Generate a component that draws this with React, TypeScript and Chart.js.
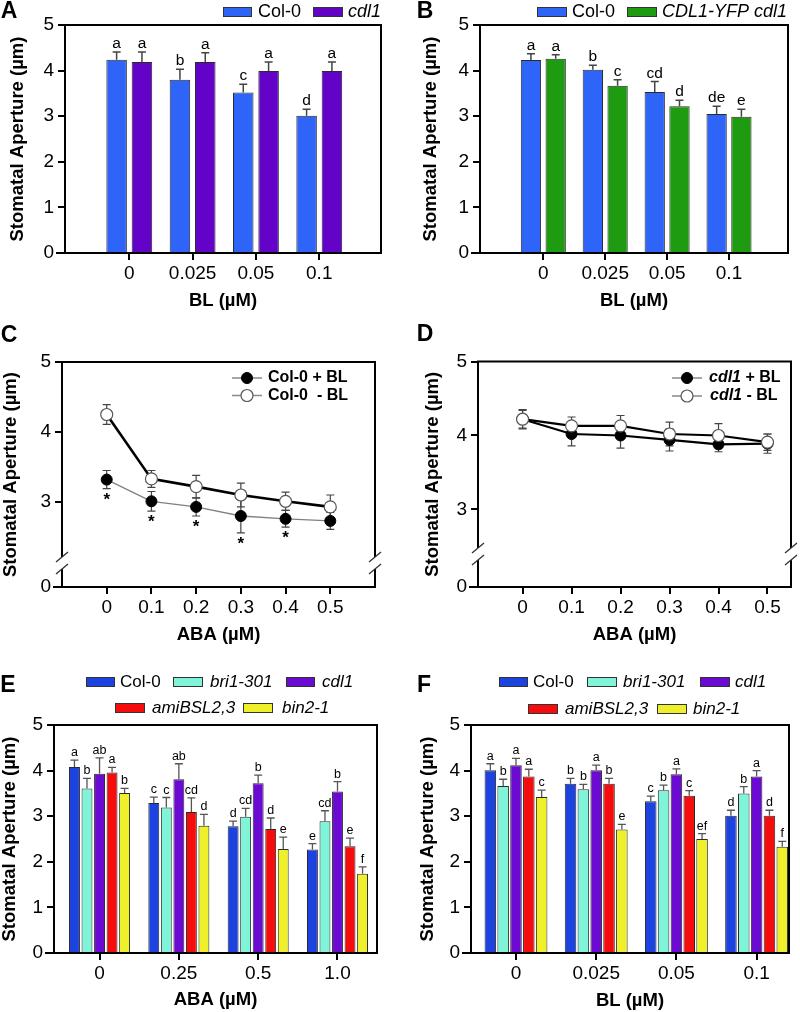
import React, { useEffect, useRef } from 'react';
import { Chart, registerables } from 'chart.js';

Chart.register(...registerables);

const FONT = '"Liberation Sans", Arial, Helvetica, sans-serif';

/* ======================= DATA ======================= */
// Shared axis labels
const Y_TITLE = 'Stomatal Aperture (µm)';
const BAR_Y_TICKS = [0, 1, 2, 3, 4, 5];
const BAR_Y_LABELS = ['0', '1', '2', '3', '4', '5'];

// Panels A, B, F : BL doses
const BL_LABELS = ['0', '0.025', '0.05', '0.1'];
// Panel E : ABA doses
const ABA_E_LABELS = ['0', '0.25', '0.5', '1.0'];

// Panel A
const A_SERIES = ['Col-0', 'cdl1'];
const A_COL0 = [4.24, 3.8, 3.52, 3.01];
const A_COL0_ERR = [0.17, 0.23, 0.18, 0.14];
const A_COL0_SIG = ['a', 'b', 'c', 'd'];
const A_CDL1 = [4.19, 4.19, 3.99, 3.99];
const A_CDL1_ERR = [0.22, 0.2, 0.2, 0.2];
const A_CDL1_SIG = ['a', 'a', 'a', 'a'];

// Panel B
const B_SERIES = ['Col-0', 'CDL1-YFP cdl1'];
const B_COL0 = [4.23, 4.02, 3.53, 3.05];
const B_COL0_ERR = [0.14, 0.1, 0.23, 0.17];
const B_COL0_SIG = ['a', 'b', 'cd', 'de'];
const B_YFP = [4.26, 3.67, 3.22, 2.99];
const B_YFP_ERR = [0.09, 0.13, 0.13, 0.16];
const B_YFP_SIG = ['a', 'c', 'd', 'e'];

// Panels C, D : ABA line series (broken y axis)
const ABA_DOSES = [0, 0.1, 0.2, 0.3, 0.4, 0.5];
const ABA_LABELS = ['0', '0.1', '0.2', '0.3', '0.4', '0.5'];
const BROKEN_Y_TICKS = [3, 4, 5];
const BROKEN_Y_LABELS = ['0', '3', '4', '5'];

const C_SERIES = ['Col-0 + BL', 'Col-0  - BL'];
const C_PLUS = [3.32, 3.01, 2.93, 2.8, 2.76, 2.73];
const C_PLUS_ERR = [0.13, 0.14, 0.13, 0.24, 0.12, 0.12];
const C_PLUS_MARK = ['*', '*', '*', '*', '*', ''];
const C_MINUS = [4.25, 3.33, 3.22, 3.1, 3.01, 2.93];
const C_MINUS_ERR = [0.14, 0.12, 0.16, 0.17, 0.13, 0.17];

const D_SERIES = ['cdl1 + BL', 'cdl1 - BL'];
const D_PLUS = [4.22, 4.02, 4.0, 3.94, 3.88, 3.89];
const D_PLUS_ERR = [0.12, 0.16, 0.17, 0.15, 0.1, 0.13];
const D_MINUS = [4.22, 4.13, 4.13, 4.02, 4.0, 3.91];
const D_MINUS_ERR = [0.13, 0.12, 0.14, 0.16, 0.16, 0.11];

// Panels E, F : five genotypes
const GENOTYPES = ['Col-0', 'bri1-301', 'cdl1', 'amiBSL2,3', 'bin2-1'];

const E_COL0 = [4.08, 3.29, 2.78, 2.27];
const E_COL0_ERR = [0.15, 0.13, 0.11, 0.13];
const E_COL0_SIG = ['a', 'c', 'd', 'e'];
const E_BRI1 = [3.61, 3.19, 2.99, 2.89];
const E_BRI1_ERR = [0.22, 0.22, 0.18, 0.23];
const E_BRI1_SIG = ['b', 'c', 'cd', 'cd'];
const E_CDL1 = [3.93, 3.81, 3.72, 3.54];
const E_CDL1_ERR = [0.35, 0.34, 0.18, 0.22];
const E_CDL1_SIG = ['ab', 'ab', 'b', 'b'];
const E_AMI = [3.96, 3.09, 2.72, 2.34];
const E_AMI_ERR = [0.11, 0.31, 0.24, 0.18];
const E_AMI_SIG = ['a', 'cd', 'd', 'e'];
const E_BIN2 = [3.51, 2.79, 2.28, 1.74];
const E_BIN2_ERR = [0.1, 0.25, 0.26, 0.15];
const E_BIN2_SIG = ['b', 'd', 'e', 'f'];

const F_COL0 = [4.01, 3.71, 3.33, 3.01];
const F_COL0_ERR = [0.14, 0.12, 0.11, 0.12];
const F_COL0_SIG = ['a', 'b', 'c', 'd'];
const F_BRI1 = [3.66, 3.59, 3.57, 3.5];
const F_BRI1_ERR = [0.15, 0.11, 0.11, 0.15];
const F_BRI1_SIG = ['b', 'b', 'b', 'b'];
const F_CDL1 = [4.12, 4.01, 3.92, 3.87];
const F_CDL1_ERR = [0.15, 0.11, 0.12, 0.13];
const F_CDL1_SIG = ['a', 'a', 'a', 'a'];
const F_AMI = [3.87, 3.71, 3.45, 3.01];
const F_AMI_ERR = [0.16, 0.12, 0.11, 0.12];
const F_AMI_SIG = ['a', 'b', 'c', 'd'];
const F_BIN2 = [3.42, 2.71, 2.5, 2.33];
const F_BIN2_ERR = [0.15, 0.11, 0.12, 0.12];
const F_BIN2_SIG = ['c', 'e', 'ef', 'f'];

/* ======================= STYLE ======================= */
const C_BLUE_LIGHT = '#2e64f7';
const C_PURPLE = '#6403c8';
const C_GREEN = '#1f9b12';
const C_BLUE = '#1c42e0';
const C_AQUA = '#80f4d8';
const C_PURPLE2 = '#6a0ad2';
const C_RED = '#f50c0c';
const C_YELLOW = '#f0f02a';

const TICK_SIZE = 19;
const TITLE_SIZE = 18.5;
const TITLE_HALF = TITLE_SIZE / 2;

type Rect = { x: number; y: number; w: number; h: number };
type Area = { l: number; t: number; r: number; b: number };
type Geom = {
  canvas: Rect;
  area: Area;
  yTitleX: number;
  xTitleY: number;
  letter: { text: string; x: number; y: number };
};
type Seg = { text: string; italic?: boolean };
type LegendEntry = { ds: number; kind: 'box' | 'line'; x1: number; x2: number; tx: number; y: number; segs: Seg[] };

function layoutPadding(g: Geom) {
  return {
    left: 0,
    top: g.area.t - g.canvas.y,
    right: g.canvas.x + g.canvas.w - g.area.r,
    bottom: 0,
  };
}

const axisGrid = (tl: number) => ({
  display: true,
  drawOnChartArea: false,
  drawTicks: true,
  tickLength: tl,
  color: '#000',
  tickColor: '#000',
  lineWidth: 2,
  tickWidth: 2,
  offset: false,
});
const axisBorder = { display: true, color: '#000', width: 2 };

function xScale(g: Geom, min: number, max: number, values: number[], labels: string[], title: string) {
  const h = g.canvas.y + g.canvas.h - g.area.b;
  return {
    type: 'linear',
    min,
    max,
    offset: false,
    bounds: 'data',
    afterBuildTicks: (s: any) => {
      s.ticks = values.map((v) => ({ value: v }));
    },
    afterFit: (s: any) => {
      s.height = h;
    },
    ticks: {
      callback: (_v: any, i: number) => labels[i],
      font: { family: FONT, size: TICK_SIZE },
      color: '#000',
      padding: 2,
      maxRotation: 0,
      minRotation: 0,
      autoSkip: false,
    },
    grid: axisGrid(7),
    border: axisBorder,
    title: {
      display: true,
      text: title,
      color: '#000',
      font: { family: FONT, size: TITLE_SIZE, weight: 'bold', lineHeight: 1 },
      padding: { top: 0, bottom: g.canvas.y + g.canvas.h - g.xTitleY - TITLE_HALF },
    },
  };
}

function yScale(g: Geom, min: number, max: number, values: number[], labels: string[]) {
  const w = g.area.l - g.canvas.x;
  return {
    type: 'linear',
    min,
    max,
    bounds: 'data',
    afterBuildTicks: (s: any) => {
      s.ticks = values.map((v) => ({ value: v }));
    },
    afterFit: (s: any) => {
      s.width = w;
    },
    ticks: {
      callback: (_v: any, i: number) => labels[i],
      font: { family: FONT, size: TICK_SIZE },
      color: '#000',
      padding: 4,
    },
    grid: axisGrid(7),
    border: axisBorder,
    title: {
      display: true,
      text: Y_TITLE,
      color: '#000',
      font: { family: FONT, size: TITLE_SIZE, weight: 'bold', lineHeight: 1 },
      padding: { top: g.yTitleX - g.canvas.x - TITLE_HALF, bottom: 0 },
    },
  };
}

/* ======================= PLUGINS ======================= */
function framePlugin(g: Geom, breakY?: number) {
  return {
    id: 'frame',
    afterDraw(chart: any) {
      const { ctx, chartArea: a } = chart;
      ctx.save();
      ctx.strokeStyle = '#000';
      ctx.lineWidth = 2;
      ctx.lineCap = 'square';
      ctx.beginPath();
      ctx.moveTo(a.left, a.top);
      ctx.lineTo(a.right, a.top);
      ctx.lineTo(a.right, a.bottom);
      ctx.moveTo(a.left - 8, a.bottom);
      ctx.lineTo(a.left, a.bottom);
      ctx.stroke();
      if (breakY !== undefined) {
        const yc = breakY - g.canvas.y;
        for (const x of [a.left, a.right]) {
          ctx.fillStyle = '#fff';
          ctx.fillRect(x - 3, yc - 6, 6, 12);
          ctx.strokeStyle = '#333';
          ctx.lineWidth = 1.3;
          ctx.lineCap = 'butt';
          ctx.beginPath();
          ctx.moveTo(x - 6, yc - 1);
          ctx.lineTo(x + 6, yc - 11);
          ctx.moveTo(x - 6, yc + 11);
          ctx.lineTo(x + 6, yc + 1);
          ctx.stroke();
        }
      }
      // panel letter
      ctx.fillStyle = '#000';
      ctx.font = `bold 23px ${FONT}`;
      ctx.textAlign = 'center';
      ctx.textBaseline = 'middle';
      ctx.fillText(g.letter.text, g.letter.x - g.canvas.x, g.letter.y - g.canvas.y);
      ctx.restore();
    },
  };
}

function errorBarPlugin(both: boolean, color: string, lw: number, half: number) {
  const draw = (chart: any) => {
    const { ctx } = chart;
    const ys = chart.scales.y;
    ctx.save();
    ctx.strokeStyle = color;
    ctx.lineWidth = lw;
    chart.data.datasets.forEach((ds: any, di: number) => {
      if (!ds.errors) return;
      const meta = chart.getDatasetMeta(di);
      meta.data.forEach((el: any, j: number) => {
        const v = ds.data[j].y;
        const e = ds.errors[j];
        const top = ys.getPixelForValue(v + e);
        const bot = ys.getPixelForValue(both ? v - e : v);
        ctx.beginPath();
        ctx.moveTo(el.x, bot);
        ctx.lineTo(el.x, top);
        ctx.moveTo(el.x - half, top);
        ctx.lineTo(el.x + half, top);
        if (both) {
          ctx.moveTo(el.x - half, bot);
          ctx.lineTo(el.x + half, bot);
        }
        ctx.stroke();
      });
    });
    ctx.restore();
  };
  return both ? { id: 'errbars', beforeDatasetsDraw: draw } : { id: 'errbars', afterDatasetsDraw: draw };
}

function sigPlugin(size: number) {
  return {
    id: 'sig',
    afterDatasetsDraw(chart: any) {
      const { ctx } = chart;
      const ys = chart.scales.y;
      ctx.save();
      ctx.fillStyle = '#000';
      ctx.textAlign = 'center';
      chart.data.datasets.forEach((ds: any, di: number) => {
        const meta = chart.getDatasetMeta(di);
        meta.data.forEach((el: any, j: number) => {
          const v = ds.data[j].y;
          const e = ds.errors ? ds.errors[j] : 0;
          if (ds.sig && ds.sig[j]) {
            ctx.font = `${size}px ${FONT}`;
            ctx.textBaseline = 'alphabetic';
            ctx.fillText(ds.sig[j], el.x, ys.getPixelForValue(v + e) - 4);
          }
          if (ds.marks && ds.marks[j]) {
            ctx.font = `bold 17px ${FONT}`;
            ctx.textBaseline = 'top';
            ctx.fillText(ds.marks[j], el.x, ys.getPixelForValue(v - e) + 3);
          }
        });
      });
      ctx.restore();
    },
  };
}

function legendPlugin(g: Geom, entries: LegendEntry[], size: number, bold: boolean) {
  return {
    id: 'customLegend',
    afterDraw(chart: any) {
      const { ctx } = chart;
      const ox = g.canvas.x;
      const oy = g.canvas.y;
      ctx.save();
      for (const en of entries) {
        const ds = chart.data.datasets[en.ds];
        const y = en.y - oy;
        if (en.kind === 'box') {
          ctx.fillStyle = ds.backgroundColor;
          ctx.fillRect(en.x1 - ox, y - 5, en.x2 - en.x1, 10);
          ctx.strokeStyle = '#333';
          ctx.lineWidth = 1;
          ctx.strokeRect(en.x1 - ox + 0.5, y - 4.5, en.x2 - en.x1 - 1, 9);
        } else {
          ctx.strokeStyle = '#8a8a8a';
          ctx.lineWidth = 1.5;
          ctx.beginPath();
          ctx.moveTo(en.x1 - ox, y);
          ctx.lineTo(en.x2 - ox, y);
          ctx.stroke();
          ctx.beginPath();
          ctx.arc((en.x1 + en.x2) / 2 - ox, y, ds.pointRadius, 0, Math.PI * 2);
          ctx.fillStyle = ds.pointBackgroundColor;
          ctx.fill();
          ctx.strokeStyle = ds.pointBorderColor;
          ctx.lineWidth = ds.pointBorderWidth;
          ctx.stroke();
        }
        let tx = en.tx - ox;
        ctx.fillStyle = '#000';
        ctx.textAlign = 'left';
        ctx.textBaseline = 'middle';
        for (const s of en.segs) {
          ctx.font = `${s.italic ? 'italic ' : ''}${bold ? 'bold ' : ''}${size}px ${FONT}`;
          ctx.fillText(s.text, tx, y);
          tx += ctx.measureText(s.text).width;
        }
      }
      ctx.restore();
    },
  };
}

/* ======================= BUILDERS ======================= */
function barDs(label: string, values: number[], errors: number[], sig: string[], color: string, cat: number, bar: number) {
  return {
    type: 'bar',
    label,
    data: values.map((y, i) => ({ x: i, y })),
    errors,
    sig,
    backgroundColor: color,
    borderColor: '#2b2b2b',
    borderWidth: 1,
    categoryPercentage: cat,
    barPercentage: bar,
  };
}

function lineDs(label: string, values: number[], errors: number[], opts: any) {
  return {
    type: 'line',
    label,
    data: ABA_DOSES.map((x, i) => ({ x, y: values[i] })),
    errors,
    tension: 0,
    pointRadius: 5.5,
    pointHoverRadius: 5.5,
    ...opts,
  };
}

function baseOptions(g: Geom, scales: any) {
  return {
    responsive: false,
    animation: false,
    devicePixelRatio: 1,
    layout: { padding: layoutPadding(g) },
    events: [],
    plugins: { legend: { display: false }, tooltip: { enabled: false }, title: { display: false } },
    scales,
  };
}

type Panel = { key: string; g: Geom; build: (g: Geom) => any };

const GEOM_A: Geom = {
  canvas: { x: 0, y: 0, w: 400, h: 318 },
  area: { l: 65, t: 25, r: 381, b: 253 },
  yTitleX: 18,
  xTitleY: 301,
  letter: { text: 'A', x: 9, y: 12 },
};
const GEOM_B: Geom = {
  canvas: { x: 400, y: 0, w: 400, h: 318 },
  area: { l: 480, t: 25, r: 788, b: 253 },
  yTitleX: 431,
  xTitleY: 301,
  letter: { text: 'B', x: 425, y: 12 },
};
const GEOM_C: Geom = {
  canvas: { x: 0, y: 318, w: 400, h: 327 },
  area: { l: 62, t: 362, r: 375, b: 587 },
  yTitleX: 11,
  xTitleY: 635,
  letter: { text: 'C', x: 9, y: 336 },
};
const GEOM_D: Geom = {
  canvas: { x: 400, y: 318, w: 400, h: 327 },
  area: { l: 478, t: 361.5, r: 791, b: 587 },
  yTitleX: 433,
  xTitleY: 635,
  letter: { text: 'D', x: 425, y: 335 },
};
const GEOM_E: Geom = {
  canvas: { x: 0, y: 645, w: 400, h: 367 },
  area: { l: 54, t: 725, r: 377, b: 953 },
  yTitleX: 10,
  xTitleY: 1000,
  letter: { text: 'E', x: 8, y: 686 },
};
const GEOM_F: Geom = {
  canvas: { x: 400, y: 645, w: 400, h: 367 },
  area: { l: 471, t: 725, r: 789, b: 953 },
  yTitleX: 428,
  xTitleY: 1001,
  letter: { text: 'F', x: 424, y: 686 },
};

const idx = (labels: string[]) => labels.map((_, i) => i);

const PANELS: Panel[] = [
  {
    key: 'A',
    g: GEOM_A,
    build: (g) => ({
      type: 'bar',
      data: {
        datasets: [
          barDs(A_SERIES[0], A_COL0, A_COL0_ERR, A_COL0_SIG, C_BLUE_LIGHT, 0.8, 0.81),
          barDs(A_SERIES[1], A_CDL1, A_CDL1_ERR, A_CDL1_SIG, C_PURPLE, 0.8, 0.81),
        ],
      },
      options: baseOptions(g, {
        x: xScale(g, -1.015, 3.975, idx(BL_LABELS), BL_LABELS, 'BL (µM)'),
        y: yScale(g, 0, 5, BAR_Y_TICKS, BAR_Y_LABELS),
      }),
      plugins: [
        errorBarPlugin(false, '#444', 1.5, 4),
        sigPlugin(15.5),
        framePlugin(g),
        legendPlugin(
          g,
          [
            { ds: 0, kind: 'box', x1: 223, x2: 252, tx: 258, y: 12, segs: [{ text: A_SERIES[0] }] },
            { ds: 1, kind: 'box', x1: 313, x2: 343, tx: 348, y: 12, segs: [{ text: A_SERIES[1], italic: true }] },
          ],
          18,
          false
        ),
      ],
    }),
  },
  {
    key: 'B',
    g: GEOM_B,
    build: (g) => ({
      type: 'bar',
      data: {
        datasets: [
          barDs(B_SERIES[0], B_COL0, B_COL0_ERR, B_COL0_SIG, C_BLUE_LIGHT, 0.8, 0.82),
          barDs(B_SERIES[1], B_YFP, B_YFP_ERR, B_YFP_SIG, C_GREEN, 0.8, 0.82),
        ],
      },
      options: baseOptions(g, {
        x: xScale(g, -1.023, 3.953, idx(BL_LABELS), BL_LABELS, 'BL (µM)'),
        y: yScale(g, 0, 5, BAR_Y_TICKS, BAR_Y_LABELS),
      }),
      plugins: [
        errorBarPlugin(false, '#444', 1.5, 4),
        sigPlugin(15.5),
        framePlugin(g),
        legendPlugin(
          g,
          [
            { ds: 0, kind: 'box', x1: 537, x2: 567, tx: 572, y: 12, segs: [{ text: B_SERIES[0] }] },
            { ds: 1, kind: 'box', x1: 627, x2: 657, tx: 662, y: 12, segs: [{ text: B_SERIES[1], italic: true }] },
          ],
          18,
          false
        ),
      ],
    }),
  },
  {
    key: 'C',
    g: GEOM_C,
    build: (g) => {
      const yMin = 3 - (g.area.b - 502) / 70;
      return {
        type: 'line',
        data: {
          datasets: [
            {
              ...lineDs(C_SERIES[0], C_PLUS, C_PLUS_ERR, {
                borderColor: '#808080',
                borderWidth: 1.3,
                pointBackgroundColor: '#000',
                pointBorderColor: '#000',
                pointBorderWidth: 1,
                order: 1,
              }),
              marks: C_PLUS_MARK,
            },
            lineDs(C_SERIES[1], C_MINUS, C_MINUS_ERR, {
              borderColor: '#000',
              borderWidth: 2.6,
              pointBackgroundColor: '#fff',
              pointBorderColor: '#555',
              pointBorderWidth: 1.2,
              pointRadius: 6,
              order: 0,
            }),
          ],
        },
        options: baseOptions(g, {
          x: xScale(g, -0.1, 0.6, ABA_DOSES, ABA_LABELS, 'ABA (µM)'),
          y: yScale(g, yMin, 5, [yMin, ...BROKEN_Y_TICKS], BROKEN_Y_LABELS),
        }),
        plugins: [
          errorBarPlugin(true, '#444', 1.2, 4),
          sigPlugin(15),
          framePlugin(g, 563),
          legendPlugin(
            g,
            [
              { ds: 0, kind: 'line', x1: 232, x2: 262, tx: 268, y: 378, segs: [{ text: C_SERIES[0] }] },
              { ds: 1, kind: 'line', x1: 232, x2: 262, tx: 268, y: 395.5, segs: [{ text: C_SERIES[1] }] },
            ],
            16,
            true
          ),
        ],
      };
    },
  },
  {
    key: 'D',
    g: GEOM_D,
    build: (g) => {
      const yMin = 3 - (g.area.b - 509.3) / 74.15;
      return {
        type: 'line',
        data: {
          datasets: [
            lineDs(D_SERIES[0], D_PLUS, D_PLUS_ERR, {
              borderColor: '#000',
              borderWidth: 2.2,
              pointBackgroundColor: '#000',
              pointBorderColor: '#000',
              pointBorderWidth: 1,
              order: 1,
            }),
            lineDs(D_SERIES[1], D_MINUS, D_MINUS_ERR, {
              borderColor: '#000',
              borderWidth: 2.2,
              pointBackgroundColor: '#fff',
              pointBorderColor: '#555',
              pointBorderWidth: 1.2,
              pointRadius: 6,
              order: 0,
            }),
          ],
        },
        options: baseOptions(g, {
          x: xScale(g, -0.091, 0.548, ABA_DOSES, ABA_LABELS, 'ABA (µM)'),
          y: yScale(g, yMin, 5, [yMin, ...BROKEN_Y_TICKS], BROKEN_Y_LABELS),
        }),
        plugins: [
          errorBarPlugin(true, '#444', 1.2, 4),
          framePlugin(g, 554),
          legendPlugin(
            g,
            [
              { ds: 0, kind: 'line', x1: 672, x2: 702, tx: 709, y: 378, segs: [{ text: 'cdl1', italic: true }, { text: ' + BL' }] },
              { ds: 1, kind: 'line', x1: 672, x2: 702, tx: 710, y: 396, segs: [{ text: 'cdl1', italic: true }, { text: ' - BL' }] },
            ],
            16,
            true
          ),
        ],
      };
    },
  },
  {
    key: 'E',
    g: GEOM_E,
    build: (g) => ({
      type: 'bar',
      data: {
        datasets: [
          barDs(GENOTYPES[0], E_COL0, E_COL0_ERR, E_COL0_SIG, C_BLUE, 0.79, 0.87),
          barDs(GENOTYPES[1], E_BRI1, E_BRI1_ERR, E_BRI1_SIG, C_AQUA, 0.79, 0.87),
          barDs(GENOTYPES[2], E_CDL1, E_CDL1_ERR, E_CDL1_SIG, C_PURPLE2, 0.79, 0.87),
          barDs(GENOTYPES[3], E_AMI, E_AMI_ERR, E_AMI_SIG, C_RED, 0.79, 0.87),
          barDs(GENOTYPES[4], E_BIN2, E_BIN2_ERR, E_BIN2_SIG, C_YELLOW, 0.79, 0.87),
        ],
      },
      options: baseOptions(g, {
        x: xScale(g, -0.574, 3.498, idx(ABA_E_LABELS), ABA_E_LABELS, 'ABA (µM)'),
        y: yScale(g, 0, 5, BAR_Y_TICKS, BAR_Y_LABELS),
      }),
      plugins: [
        errorBarPlugin(false, '#555', 1.3, 4),
        sigPlugin(12.5),
        framePlugin(g),
        legendPlugin(
          g,
          [
            { ds: 0, kind: 'box', x1: 86, x2: 115, tx: 120, y: 682, segs: [{ text: GENOTYPES[0] }] },
            { ds: 1, kind: 'box', x1: 173, x2: 203, tx: 210, y: 682, segs: [{ text: GENOTYPES[1], italic: true }] },
            { ds: 2, kind: 'box', x1: 286, x2: 315, tx: 322, y: 682, segs: [{ text: GENOTYPES[2], italic: true }] },
            { ds: 3, kind: 'box', x1: 115, x2: 145, tx: 152, y: 708, segs: [{ text: GENOTYPES[3], italic: true }] },
            { ds: 4, kind: 'box', x1: 243, x2: 273, tx: 282, y: 708, segs: [{ text: GENOTYPES[4], italic: true }] },
          ],
          17,
          false
        ),
      ],
    }),
  },
  {
    key: 'F',
    g: GEOM_F,
    build: (g) => ({
      type: 'bar',
      data: {
        datasets: [
          barDs(GENOTYPES[0], F_COL0, F_COL0_ERR, F_COL0_SIG, C_BLUE, 0.8, 0.9),
          barDs(GENOTYPES[1], F_BRI1, F_BRI1_ERR, F_BRI1_SIG, C_AQUA, 0.8, 0.9),
          barDs(GENOTYPES[2], F_CDL1, F_CDL1_ERR, F_CDL1_SIG, C_PURPLE2, 0.8, 0.9),
          barDs(GENOTYPES[3], F_AMI, F_AMI_ERR, F_AMI_SIG, C_RED, 0.8, 0.9),
          barDs(GENOTYPES[4], F_BIN2, F_BIN2_ERR, F_BIN2_SIG, C_YELLOW, 0.8, 0.9),
        ],
      },
      options: baseOptions(g, {
        x: xScale(g, -0.561, 3.404, idx(BL_LABELS), BL_LABELS, 'BL (µM)'),
        y: yScale(g, 0, 5, BAR_Y_TICKS, BAR_Y_LABELS),
      }),
      plugins: [
        errorBarPlugin(false, '#555', 1.3, 4),
        sigPlugin(12.5),
        framePlugin(g),
        legendPlugin(
          g,
          [
            { ds: 0, kind: 'box', x1: 499, x2: 528, tx: 533, y: 682, segs: [{ text: GENOTYPES[0] }] },
            { ds: 1, kind: 'box', x1: 587, x2: 617, tx: 623, y: 682, segs: [{ text: GENOTYPES[1], italic: true }] },
            { ds: 2, kind: 'box', x1: 700, x2: 730, tx: 735, y: 682, segs: [{ text: GENOTYPES[2], italic: true }] },
            { ds: 3, kind: 'box', x1: 528, x2: 558, tx: 565, y: 709, segs: [{ text: GENOTYPES[3], italic: true }] },
            { ds: 4, kind: 'box', x1: 657, x2: 687, tx: 693, y: 709, segs: [{ text: GENOTYPES[4], italic: true }] },
          ],
          17,
          false
        ),
      ],
    }),
  },
];

function PanelChart({ panel }: { panel: Panel }) {
  const ref = useRef<HTMLCanvasElement>(null);
  useEffect(() => {
    if (!ref.current) return;
    const chart = new Chart(ref.current, panel.build(panel.g));
    return () => chart.destroy();
  }, [panel]);
  const c = panel.g.canvas;
  return (
    <canvas
      ref={ref}
      width={c.w}
      height={c.h}
      style={{ position: 'absolute', left: c.x, top: c.y, width: c.w, height: c.h }}
    />
  );
}

export default function App() {
  return (
    <div style={{ position: 'absolute', left: 0, top: 0, width: 800, height: 1012, background: '#fff', overflow: 'hidden' }}>
      {PANELS.map((p) => (
        <PanelChart key={p.key} panel={p} />
      ))}
    </div>
  );
}
